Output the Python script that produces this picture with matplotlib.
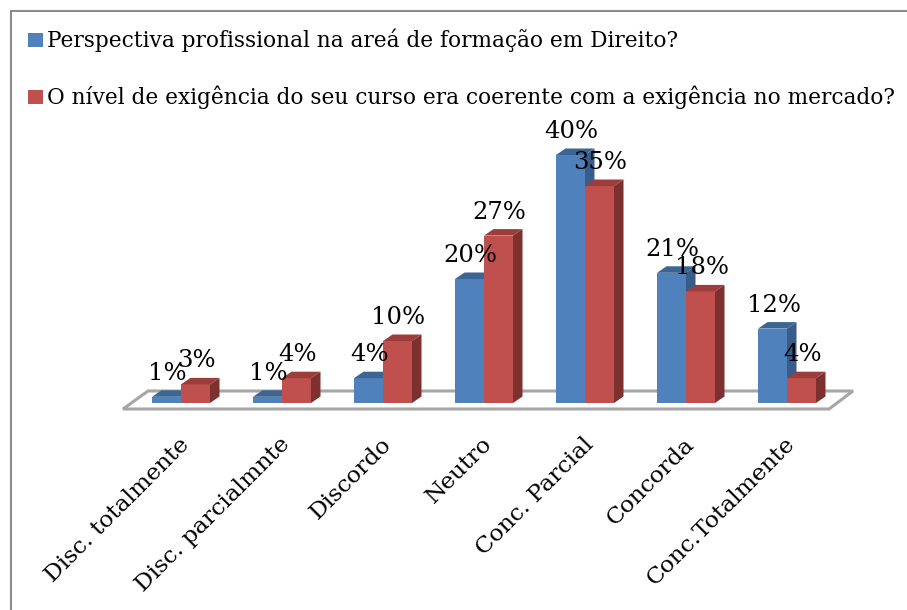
import matplotlib
matplotlib.use("Agg")
import matplotlib.pyplot as plt
from matplotlib.patches import Polygon, Rectangle
from matplotlib.lines import Line2D

categories = ["Disc. totalmente", "Disc. parcialmnte", "Discordo", "Neutro",
              "Conc. Parcial", "Concorda", "Conc.Totalmente"]
series_names = ["Perspectiva profissional na areá de formação em Direito?",
                "O nível de exigência do seu curso era coerente com a exigência no mercado?"]
blue_vals = [1, 1, 4, 20, 40, 21, 12]
red_vals = [3, 4, 10, 27, 35, 18, 4]

FONT = ["DejaVu Serif"]
W, H = 907, 610
fig = plt.figure(figsize=(W / 100, H / 100), dpi=100)

# full-figure axes: x in category units, y in percent
px_per_cat = 101.0
px_per_pct = 6.2
x0_px = 181.0          # center of first category (pixels from left)
base_px = 403.0        # baseline (pixels from top)
ax = fig.add_axes([0, 0, 1, 1])
ax.set_xlim(-x0_px / px_per_cat, (W - x0_px) / px_per_cat)
ax.set_ylim(-(H - base_px) / px_per_pct, base_px / px_per_pct)
ax.axis("off")

# chart border (left and top)
fig.add_artist(Line2D([11 / W, 11 / W], [0, 1 - 11 / H], color="#8c8c8c", lw=1.5))
fig.add_artist(Line2D([11 / W, 1], [1 - 11 / H, 1 - 11 / H], color="#8c8c8c", lw=1.5))

bw = 29 / px_per_cat
ddx = 9.5 / px_per_cat
ddy = 6.5 / px_per_pct

# floor
fy0 = -6 / px_per_pct
fy1 = 12 / px_per_pct
fl = [(123 - x0_px) / px_per_cat, (829 - x0_px) / px_per_cat]
bl = [(148 - x0_px) / px_per_cat, (853 - x0_px) / px_per_cat]
floor = Polygon([(fl[0], fy0), (fl[1], fy0), (bl[1], fy1), (bl[0], fy1)],
                closed=True, facecolor="white", edgecolor="#a6a6a6", lw=2.2, zorder=1)
ax.add_patch(floor)

colors = [("#4F81BD", "#3B6593", "#385D8A"), ("#C0504D", "#9B3E3B", "#7D312F")]

z = 2
for i in range(len(categories)):
    for s, vals in enumerate([blue_vals, red_vals]):
        v = vals[i]
        x = i - bw if s == 0 else i
        front, top, side = colors[s]
        ax.bar(x, v, width=bw, align="edge", color=front, zorder=z, linewidth=0)
        ax.add_patch(Polygon([(x, v), (x + bw, v), (x + bw + ddx, v + ddy), (x + ddx, v + ddy)],
                             closed=True, facecolor=top, edgecolor="none", zorder=z))
        ax.add_patch(Polygon([(x + bw, 0), (x + bw + ddx, ddy), (x + bw + ddx, v + ddy), (x + bw, v)],
                             closed=True, facecolor=side, edgecolor="none", zorder=z))
        z += 1

for i in range(len(categories)):
    for s, vals in enumerate([blue_vals, red_vals]):
        v = vals[i]
        xc = i - bw / 2 + 1 / px_per_cat if s == 0 else i + bw / 2 + 1 / px_per_cat
        ax.text(xc, v + 17 / px_per_pct, f"{v}%", ha="center", va="baseline",
                fontsize=17.5, family=FONT, color="black", zorder=100)

# category labels
for i, c in enumerate(categories):
    ax.text(i + 5 / px_per_cat, -38 / px_per_pct, c, rotation=45, rotation_mode="anchor",
            ha="right", va="center", fontsize=16.8, family=FONT, color="black")

# legend
for k, name in enumerate(series_names):
    ytop = 33 + k * 57
    fig.add_artist(Rectangle((28 / W, 1 - (ytop + 14) / H), 15 / W, 14 / H,
                             transform=fig.transFigure, facecolor=colors[k][0], edgecolor="none"))
    fig.text(47 / W, 1 - (ytop + 7) / H, name, ha="left", va="center",
             fontsize=15.6, family=FONT, color="black")

fig.savefig("out.png", dpi=100)
